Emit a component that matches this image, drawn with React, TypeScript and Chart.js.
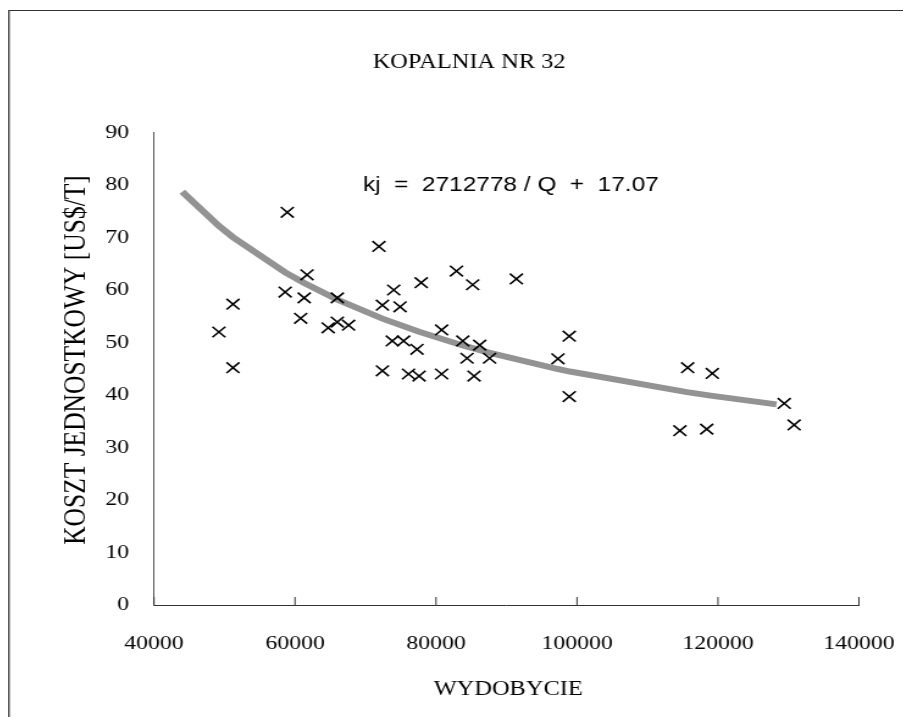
import React, { useEffect, useRef } from "react";
import { Chart, registerables } from "chart.js";

Chart.register(...registerables);

// Observations: production (WYDOBYCIE) vs unit cost (KOSZT JEDNOSTKOWY)
const pointsQ = [
  49200, 51200, 51200, 58600, 58900, 60800, 61300, 61700, 64700, 66000,
  66000, 67600, 71900, 72400, 72400, 73800, 74000, 74900, 75400, 76100,
  77300, 77600, 77900, 80800, 80800, 82900, 83800, 84400, 85200, 85400,
  86200, 87600, 91400, 97300, 98900, 98900, 114600, 115700, 118400, 119200,
  129400, 130800,
];
const pointsKj = [
  52.0, 57.3, 45.2, 59.6, 74.8, 54.6, 58.5, 62.9, 52.8, 58.5,
  53.9, 53.3, 68.3, 57.1, 44.6, 50.3, 60.0, 56.8, 50.3, 44.0,
  48.7, 43.6, 61.4, 52.4, 44.0, 63.6, 50.3, 47.0, 61.0, 43.6,
  49.5, 47.0, 62.1, 46.9, 51.2, 39.7, 33.2, 45.2, 33.5, 44.1,
  38.4, 34.3,
];

// Trend curve kj = 2712778 / Q + 17.07
const trendQ = [
  44000, 49200, 51200, 58600, 61300, 66000, 72400, 77600, 83800, 87500,
  97300, 99000, 115600, 119200, 128300,
];
const trendKj = [
  78.72, 72.21, 70.05, 63.36, 61.32, 58.17, 54.54, 52.03, 49.44, 48.07,
  44.95, 44.47, 40.54, 39.83, 38.21,
];

const xTicksMin = 40000;
const xTicksMax = 140000;
const xTickStep = 20000;
const yTicksMin = 0;
const yTicksMax = 90;
const yTickStep = 10;

const chartTitle = "KOPALNIA NR 32";
const xTitle = "WYDOBYCIE";
const yTitle = "KOSZT JEDNOSTKOWY [US$/T]";
const equationText = "kj  =  2712778 / Q  +  17.07";

const W = 740;
const H = 709;
const STRETCH = 1.22;
const SERIF = '"Liberation Serif", "Times New Roman", serif';
const SANS = '"Liberation Sans", Arial, sans-serif';

const decorPlugin = {
  id: "decor",
  afterDraw(chart: any) {
    const ctx = chart.ctx;
    const xs = chart.scales.x;
    const area = chart.chartArea;
    ctx.save();
    // frame (top + left visible)
    ctx.strokeStyle = "#333";
    ctx.lineWidth = 1.2;
    ctx.beginPath();
    ctx.moveTo(0.8, H);
    ctx.lineTo(0.8, 2.5);
    ctx.lineTo(W, 2.5);
    ctx.stroke();

    // inward x tick marks
    ctx.strokeStyle = "#333";
    ctx.lineWidth = 1;
    xs.ticks.forEach((t: any) => {
      const px = xs.getPixelForValue(t.value);
      ctx.beginPath();
      ctx.moveTo(px, area.bottom);
      ctx.lineTo(px, area.bottom - 8);
      ctx.stroke();
    });

    ctx.fillStyle = "#000";
    ctx.textBaseline = "middle";
    ctx.textAlign = "center";
    ctx.font = `20px ${SERIF}`;
    ctx.fillText(chartTitle, 378, 55);
    ctx.fillText(xTitle, 410, 682);

    ctx.save();
    ctx.translate(56.3, 352);
    ctx.rotate(-Math.PI / 2);
    ctx.font = `25.5px ${SERIF}`;
    ctx.fillText(yTitle, 0, 0);
    ctx.restore();

    ctx.textAlign = "left";
    ctx.font = `20px ${SANS}`;
    ctx.fillText(equationText, 291, 177);
    ctx.restore();
  },
};

export default function App() {
  const ref = useRef<HTMLCanvasElement | null>(null);

  useEffect(() => {
    if (!ref.current) return;
    const chart = new Chart(ref.current, {
      type: "scatter",
      data: {
        datasets: [
          {
            type: "line",
            label: "trend",
            data: trendQ.map((q, i) => ({ x: q, y: trendKj[i] })),
            borderColor: "#939393",
            borderWidth: 6,
            pointRadius: 0,
            fill: false,
            tension: 0,
            order: 2,
          } as any,
          {
            type: "scatter",
            label: "dane",
            data: pointsQ.map((q, i) => ({ x: q, y: pointsKj[i] })),
            pointStyle: "crossRot",
            pointRadius: 7.5,
            pointBorderWidth: 1.6,
            borderColor: "#000",
            backgroundColor: "#000",
            order: 1,
          } as any,
        ],
      },
      options: {
        responsive: false,
        devicePixelRatio: 1,
        animation: false,
        layout: { padding: { top: 124.5, right: 42.5, bottom: 0, left: 0 } },
        plugins: {
          legend: { display: false },
          tooltip: { enabled: false },
          title: { display: false },
        },
        scales: {
          x: {
            type: "linear",
            min: xTicksMin,
            max: xTicksMax,
            grid: { display: false, drawTicks: false },
            border: { display: true, color: "#333", width: 1 },
            ticks: {
              stepSize: xTickStep,
              color: "#000",
              font: { family: SERIF, size: 19.5 },
              padding: 27,
              maxRotation: 0,
              autoSkip: false,
              callback: (v: any) => String(v),
            },
            afterFit: (s: any) => {
              s.height = 112;
              s.paddingLeft = 0;
              s.paddingRight = 0;
            },
          },
          y: {
            type: "linear",
            min: yTicksMin,
            max: yTicksMax,
            grid: { display: false, drawTicks: false },
            border: { display: true, color: "#555", width: 1 },
            ticks: {
              stepSize: yTickStep,
              color: "#000",
              font: { family: SERIF, size: 19.5 },
              padding: 20.5,
              callback: (v: any) => String(v),
            },
            afterFit: (s: any) => {
              s.width = 119.7;
              s.paddingTop = 0;
              s.paddingBottom = 0;
            },
          },
        },
      },
      plugins: [decorPlugin],
    });
    return () => chart.destroy();
  }, []);

  return (
    <div
      style={{
        width: W,
        height: H,
        transform: `scaleX(${STRETCH})`,
        transformOrigin: "0 0",
      }}
    >
      <canvas
        ref={ref}
        width={W}
        height={H}
        style={{ display: "block", width: W, height: H }}
      />
    </div>
  );
}
